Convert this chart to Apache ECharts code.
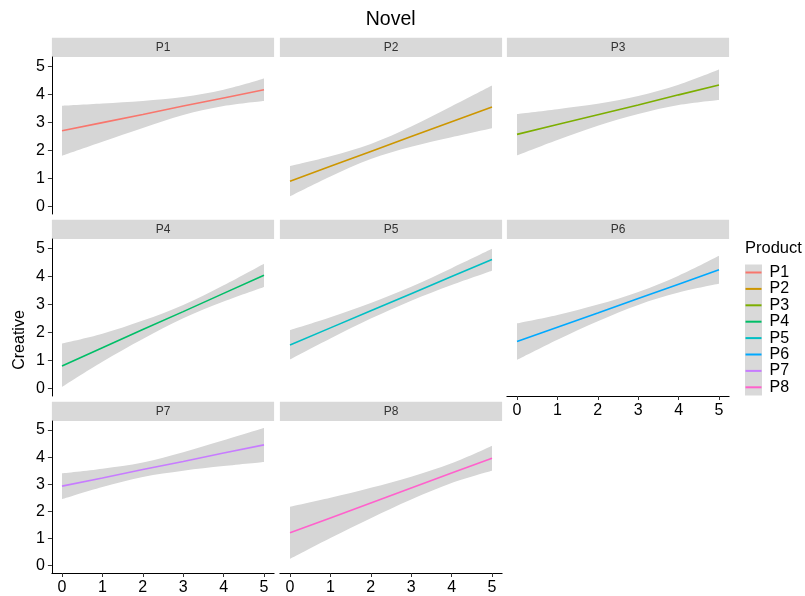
<!DOCTYPE html>
<html><head><meta charset="utf-8">
<script src="https://cdn.jsdelivr.net/npm/echarts@6/dist/echarts.min.js"></script>
<style>html,body{margin:0;padding:0;background:#fff}#c{width:805px;height:596px}</style>
</head><body><div id="c"></div>
<script>
// ---- data ----
const products = ['P1','P2','P3','P4','P5','P6','P7','P8'];
const xs = [0, 1, 2, 3, 4, 5];
const xTicks = [0, 1, 2, 3, 4, 5];
const yTicks = [0, 1, 2, 3, 4, 5];

const fit_P1 = [2.70, 2.99, 3.28, 3.58, 3.87, 4.16];
const lo_P1  = [1.81, 2.31, 2.80, 3.26, 3.58, 3.76];
const up_P1  = [3.59, 3.67, 3.76, 3.90, 4.16, 4.56];

const fit_P2 = [0.90, 1.43, 1.96, 2.49, 3.02, 3.55];
const lo_P2  = [0.36, 1.07, 1.69, 2.13, 2.47, 2.79];
const up_P2  = [1.44, 1.79, 2.23, 2.85, 3.57, 4.31];

const fit_P3 = [2.57, 2.92, 3.27, 3.62, 3.98, 4.33];
const lo_P3  = [1.82, 2.37, 2.88, 3.30, 3.62, 3.80];
const up_P3  = [3.30, 3.47, 3.66, 3.94, 4.34, 4.88];

const fit_P4 = [0.80, 1.45, 2.10, 2.74, 3.39, 4.04];
const lo_P4  = [0.05, 0.95, 1.76, 2.50, 3.10, 3.62];
const up_P4  = [1.60, 1.95, 2.42, 2.98, 3.68, 4.45];

const fit_P5 = [1.55, 2.16, 2.77, 3.38, 3.99, 4.60];
const lo_P5  = [1.03, 1.78, 2.49, 3.13, 3.69, 4.20];
const up_P5  = [2.08, 2.54, 3.05, 3.63, 4.29, 4.98];

const fit_P6 = [1.67, 2.18, 2.69, 3.21, 3.72, 4.23];
const lo_P6  = [1.02, 1.74, 2.40, 2.98, 3.42, 3.73];
const up_P6  = [2.32, 2.62, 2.99, 3.44, 4.02, 4.73];

const fit_P7 = [2.93, 3.23, 3.54, 3.84, 4.15, 4.45];
const lo_P7  = [2.45, 2.90, 3.27, 3.50, 3.67, 3.82];
const up_P7  = [3.40, 3.57, 3.80, 4.18, 4.62, 5.07];

const fit_P8 = [1.21, 1.76, 2.31, 2.86, 3.41, 3.96];
const lo_P8  = [0.25, 1.02, 1.75, 2.44, 3.05, 3.50];
const up_P8  = [2.17, 2.50, 2.87, 3.28, 3.77, 4.42];

const fits = [fit_P1, fit_P2, fit_P3, fit_P4, fit_P5, fit_P6, fit_P7, fit_P8];
const los  = [lo_P1, lo_P2, lo_P3, lo_P4, lo_P5, lo_P6, lo_P7, lo_P8];
const ups  = [up_P1, up_P2, up_P3, up_P4, up_P5, up_P6, up_P7, up_P8];

// ---- style / layout ----
const colors = ['#F8766D','#CD9600','#7CAE00','#00BE67','#00BFC4','#00A9FF','#C77CFF','#FF61CC'];
const FONT = '"Liberation Sans", Arial, sans-serif';
const colLeft = [51.9, 279.9, 506.9];
const rowTop = [57, 239, 421];
const PW = 222.2, PH = 157, SH = 19.3;

const grids = [], xAxes = [], yAxes = [], series = [], graphics = [];
products.forEach((p, i) => {
  const r = Math.floor(i / 3), c = i % 3;
  grids.push({left: colLeft[c], top: rowTop[r], width: PW, height: PH, containLabel: false});
  const hasX = (r === 2) || i === 5;
  const hasY = (c === 0);
  xAxes.push({
    gridIndex: i, type: 'value', min: -0.25, max: 5.25, show: hasX, z: 5,
    axisLine: {show: true, onZero: false, lineStyle: {color: '#000', width: 1}},
    axisTick: {show: true, length: 4, customValues: xTicks, lineStyle: {color: '#333', width: 1}},
    axisLabel: {show: true, customValues: xTicks, fontSize: 16, color: '#000', margin: 7, fontFamily: FONT},
    splitLine: {show: false}
  });
  yAxes.push({
    gridIndex: i, type: 'value', min: -0.27, max: 5.33, show: hasY, z: 5,
    axisLine: {show: true, onZero: false, lineStyle: {color: '#000', width: 1}},
    axisTick: {show: true, length: 4, customValues: yTicks, lineStyle: {color: '#333', width: 1}},
    axisLabel: {show: true, customValues: yTicks, fontSize: 16, color: '#000', margin: 7, fontFamily: FONT},
    splitLine: {show: false}
  });
  series.push({
    type: 'line', name: p + ' upper', xAxisIndex: i, yAxisIndex: i, silent: true,
    data: xs.map((x, k) => [x, ups[i][k]]), smooth: 0.35, symbol: 'none',
    lineStyle: {width: 0, opacity: 0}, areaStyle: {color: '#d6d6d6', opacity: 1, origin: 'start'}, z: 1
  });
  series.push({
    type: 'line', name: p + ' lower', xAxisIndex: i, yAxisIndex: i, silent: true,
    data: xs.map((x, k) => [x, los[i][k]]), smooth: 0.35, symbol: 'none',
    lineStyle: {width: 0, opacity: 0}, areaStyle: {color: '#ffffff', opacity: 1, origin: 'start'}, z: 2
  });
  series.push({
    type: 'line', name: p, xAxisIndex: i, yAxisIndex: i,
    data: xs.map((x, k) => [x, fits[i][k]]), symbol: 'none', showSymbol: false,
    itemStyle: {color: colors[i]}, lineStyle: {color: colors[i], width: 1.6}, z: 3
  });
  // facet strip
  graphics.push({type: 'rect', shape: {x: colLeft[c], y: rowTop[r] - SH, width: PW, height: SH},
    style: {fill: '#d9d9d9'}, z: 0});
  graphics.push({type: 'text', x: colLeft[c] + PW / 2, y: rowTop[r] - SH / 2 + 0.5, z: 1,
    style: {text: p, fontSize: 12, fill: '#333', fontFamily: FONT, align: 'center', verticalAlign: 'middle'}});
});

// title, axis title, legend title, legend key background
graphics.push({type: 'text', x: 390.7, y: 20, z: 1,
  style: {text: 'Novel', fontSize: 19.5, fill: '#000', fontFamily: FONT, align: 'center', verticalAlign: 'middle'}});
graphics.push({type: 'text', x: 20, y: 340, rotation: Math.PI / 2, z: 1,
  style: {text: 'Creative', fontSize: 16, fill: '#000', fontFamily: FONT, align: 'center', verticalAlign: 'middle'}});
graphics.push({type: 'text', x: 745, y: 248, z: 1,
  style: {text: 'Product', fontSize: 16.5, fill: '#000', fontFamily: FONT, align: 'left', verticalAlign: 'middle'}});
graphics.push({type: 'rect', shape: {x: 745, y: 264.5, width: 17, height: 131}, style: {fill: '#d9d9d9'}, z: 0});

const chart = echarts.init(document.getElementById('c'), null, {renderer: 'canvas'});
chart.setOption({
  animation: false,
  backgroundColor: '#fff',
  grid: grids,
  xAxis: xAxes,
  yAxis: yAxes,
  series: series,
  graphic: graphics,
  legend: {
    data: products, orient: 'vertical', left: 745.5, top: 264.5, icon: 'rect',
    itemWidth: 16, itemHeight: 2, itemGap: 0.4, selectedMode: false, padding: 0,
    textStyle: {fontSize: 16, lineHeight: 16, color: '#000', fontFamily: FONT, padding: [0, 0, 0, 3]}
  }
});
</script></body></html>
